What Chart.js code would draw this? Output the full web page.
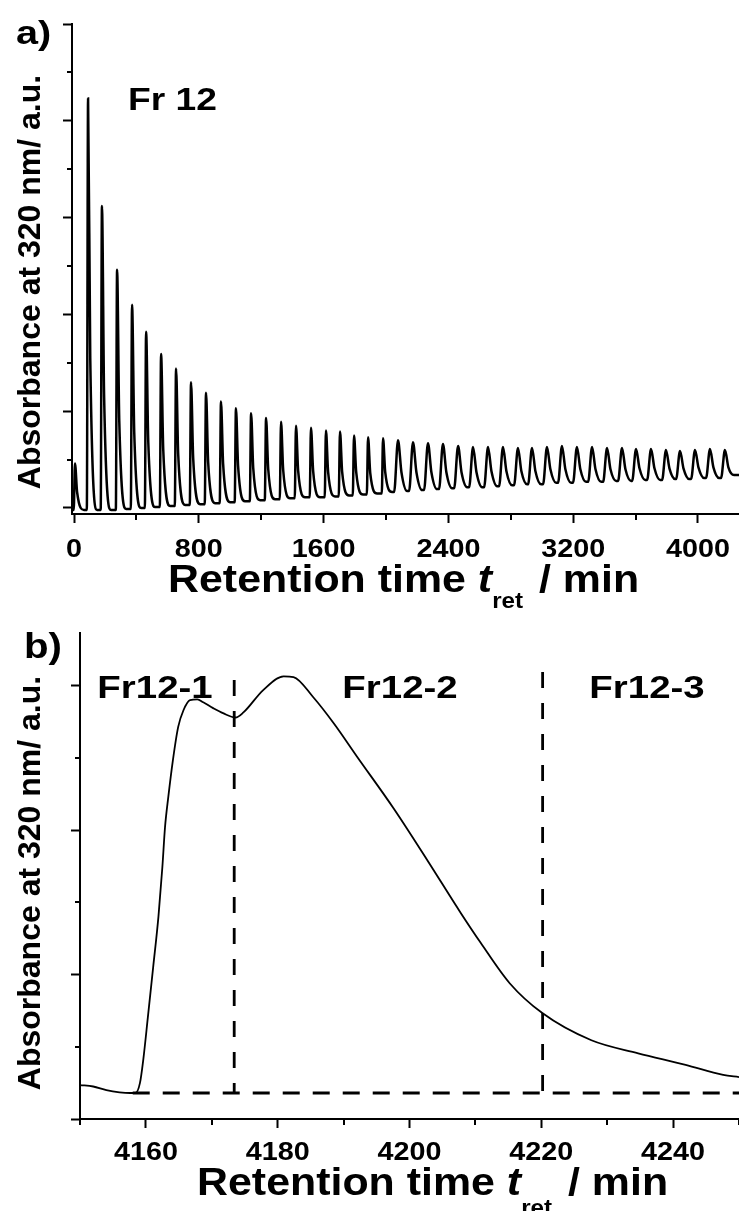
<!DOCTYPE html>
<html>
<head>
<meta charset="utf-8">
<script src="https://cdn.jsdelivr.net/npm/chart.js@4.4.1/dist/chart.umd.min.js"></script>
<style>
  body { margin: 0; background: #fff; }
  canvas { position: absolute; left: 0; }
  #chartA { top: 0; }
  #chartB { top: 600px; }
</style>
</head>
<body>
<canvas id="chartA" width="739" height="616"></canvas>
<canvas id="chartB" width="739" height="611"></canvas>
<script>
// ---- panel a: repeated cycles, one peak per injection ----
const peakTimes = [6, 90, 179, 276, 372, 462, 558, 654, 750, 846,
  942, 1038, 1135, 1231, 1327, 1423, 1519, 1615, 1705, 1795,
  1885, 1981, 2077, 2173, 2269, 2365, 2462, 2558, 2654, 2750,
  2846, 2936, 3032, 3128, 3224, 3321, 3417, 3513, 3603, 3699,
  3795, 3885, 3981, 4077, 4173];
const peakTops = [0.46, 4.23, 3.12, 2.46, 2.10, 1.82, 1.59, 1.44, 1.30, 1.19,
  1.10, 1.03, 0.98, 0.93, 0.89, 0.85, 0.83, 0.80, 0.79, 0.75,
  0.73, 0.72, 0.70, 0.68, 0.67, 0.66, 0.64, 0.63, 0.63, 0.63,
  0.62, 0.62, 0.63, 0.64, 0.63, 0.63, 0.62, 0.62, 0.61, 0.61,
  0.60, 0.59, 0.60, 0.61, 0.60];
// level where the steep fall turns into the slow tail
const peakKnees = [0.16, 1.55, 1.14, 0.90, 0.78, 0.68, 0.60, 0.55, 0.51, 0.47,
  0.45, 0.43, 0.41, 0.40, 0.39, 0.38, 0.38, 0.37, 0.37, 0.37,
  0.36, 0.37, 0.37, 0.37, 0.37, 0.37, 0.37, 0.37, 0.38, 0.38,
  0.38, 0.38, 0.40, 0.40, 0.40, 0.40, 0.40, 0.40, 0.41, 0.41,
  0.41, 0.41, 0.42, 0.42, 0.42];
// baseline reached after each peak
const peakValleys = [-0.02, -0.02, -0.02, -0.01, 0.00, 0.01, 0.02, 0.03, 0.04, 0.05,
  0.06, 0.07, 0.08, 0.09, 0.10, 0.11, 0.11, 0.12, 0.13, 0.14,
  0.15, 0.165, 0.175, 0.185, 0.195, 0.205, 0.215, 0.215, 0.225, 0.235,
  0.245, 0.245, 0.26, 0.26, 0.27, 0.27, 0.28, 0.28, 0.29, 0.29,
  0.30, 0.30, 0.31, 0.31, 0.34];
const traceStartA = -0.02;

const timeTicksA = [0, 800, 1600, 2400, 3200, 4000];
const timeMinorA = [400, 1200, 2000, 2800, 3600];
const absTicksA = [0, 1, 2, 3, 4, 5];
const absMinorA = [0.5, 1.5, 2.5, 3.5, 4.5];

// ---- panel b: last cycle, cut into three fractions ----
const fracTimes = [4150, 4152, 4154, 4156, 4157.6, 4158.4, 4159.1, 4159.6, 4160.3, 4161.1,
  4161.9, 4162.5, 4162.9, 4163.4, 4164.1, 4164.9, 4165.7, 4166.7, 4167.8, 4168.7,
  4170.2, 4171.7, 4173.6, 4174.8, 4177.8, 4180.9, 4182.4, 4185.4, 4188.5, 4192.1,
  4197.6, 4202.8, 4207.8, 4210.8, 4215.2, 4220.1, 4227.6, 4234.7, 4241.9, 4247.6, 4250];
const fracAbs = [0.47, 0.45, 0.40, 0.37, 0.36, 0.36, 0.50, 0.82, 1.41, 2.10,
  2.80, 3.49, 4.04, 4.46, 4.97, 5.43, 5.66, 5.80, 5.81, 5.77,
  5.69, 5.62, 5.56, 5.63, 5.94, 6.13, 6.12, 5.84, 5.48, 5.01,
  4.30, 3.57, 2.85, 2.44, 1.88, 1.47, 1.09, 0.91, 0.75, 0.61, 0.58];
const cutTimes = [4173.4, 4220.2];
const cutTops = [6.08, 6.19];
const baseLevel = 0.36;
const baseFrom = 4158;
const fracNames = ['Fr12-1', 'Fr12-2', 'Fr12-3'];

const timeTicksB = [4160, 4180, 4200, 4220, 4240];
const timeMinorB = [4150, 4170, 4190, 4210, 4230, 4250];
const absTicksB = [0, 2, 4, 6];
const absMinorB = [1, 3, 5];

const FONT = '"Liberation Sans", Arial, sans-serif';

// builds the saw-tooth trace of panel a from the peak readings
function buildTrace() {
  const pts = [{x: -13, y: traceStartA}];
  peakTimes.forEach((t, i) => {
    const late = t > 2000;
    const lead = late ? 25 : 8;
    const knee = late ? 22 : 14;
    const before = i === 0 ? traceStartA : peakValleys[i - 1];
    pts.push({x: t - lead, y: before});
    pts.push({x: t, y: peakTops[i]});
    pts.push({x: t + knee, y: peakKnees[i]});
    pts.push({x: t + 58, y: peakValleys[i]});
  });
  pts.push({x: 4263, y: peakValleys[peakValleys.length - 1]});
  return pts;
}

// bold text, a little wider than the font draws it
function wideText(ctx, str, x, y, size, opts) {
  opts = opts || {};
  const sx = opts.sx || 1.15;
  ctx.save();
  ctx.font = (opts.italic ? 'italic ' : '') + 'bold ' + size + 'px ' + FONT;
  ctx.fillStyle = '#000';
  ctx.textBaseline = 'alphabetic';
  const w = ctx.measureText(str).width * sx;
  const left = opts.align === 'center' ? x - w / 2 : x;
  ctx.translate(left, y);
  ctx.scale(sx, 1);
  ctx.fillText(str, 0, 0);
  ctx.restore();
  return w;
}

function timeTitle(ctx, left, base, subDrop) {
  let x = left;
  x += wideText(ctx, 'Retention time ', x, base, 39, {sx: 1.1});
  x += wideText(ctx, 't', x, base, 39, {sx: 1.1, italic: true});
  x += wideText(ctx, 'ret', x, base + subDrop, 22, {sx: 1.1}) + 4;
  wideText(ctx, ' / min', x, base, 39, {sx: 1.1});
}

function absTitle(ctx, cx, cy) {
  ctx.save();
  ctx.translate(cx, cy);
  ctx.rotate(-Math.PI / 2);
  ctx.font = 'bold 32px ' + FONT;
  ctx.fillStyle = '#000';
  ctx.textAlign = 'center';
  ctx.fillText('Absorbance at 320 nm/ a.u.', 0, 0);
  ctx.restore();
}

// short ticks between the labelled ones
const minorTicks = {
  id: 'minorTicks',
  afterDraw(chart, args, opts) {
    const ctx = chart.ctx;
    const sx = chart.scales.x, sy = chart.scales.y;
    ctx.save();
    ctx.strokeStyle = '#000';
    ctx.lineWidth = 2;
    ctx.beginPath();
    opts.x.forEach(v => {
      const px = Math.round(sx.getPixelForValue(v));
      ctx.moveTo(px, sx.top);
      ctx.lineTo(px, sx.top + 6);
    });
    opts.y.forEach(v => {
      const py = Math.round(sy.getPixelForValue(v));
      ctx.moveTo(sy.right, py);
      ctx.lineTo(sy.right - 5, py);
    });
    ctx.stroke();
    ctx.restore();
  }
};

function axisOptions(xMin, xMax, xTicks, yMin, yMax, yTicks, yWidth, xHeight) {
  const common = {
    border: {color: '#000', width: 2},
    grid: {drawOnChartArea: false, drawTicks: true, tickLength: 9, tickWidth: 2, tickColor: '#000'},
    ticks: {display: false}
  };
  return {
    x: Object.assign({}, common, {
      type: 'linear', min: xMin, max: xMax,
      afterBuildTicks: s => { s.ticks = xTicks.map(v => ({value: v})); },
      afterFit: s => { s.height = xHeight; }
    }),
    y: Object.assign({}, common, {
      type: 'linear', min: yMin, max: yMax,
      afterBuildTicks: s => { s.ticks = yTicks.map(v => ({value: v})); },
      afterFit: s => { s.width = yWidth; }
    })
  };
}

const baseOptions = {
  responsive: false,
  animation: false,
  devicePixelRatio: 1,
  events: [],
  plugins: {legend: {display: false}, tooltip: {enabled: false}}
};

// panel a
new Chart(document.getElementById('chartA'), {
  type: 'line',
  data: {
    datasets: [{
      data: buildTrace(),
      borderColor: '#000',
      borderWidth: 2.5,
      pointRadius: 0,
      cubicInterpolationMode: 'monotone',
      fill: false
    }]
  },
  options: Object.assign({}, baseOptions, {
    layout: {padding: {top: 24, left: 0, right: 0, bottom: 0}},
    scales: axisOptions(-13, 4263, timeTicksA, -0.062, 5, absTicksA, 72, 102),
    plugins: Object.assign({}, baseOptions.plugins, {
      minorTicks: {x: timeMinorA, y: absMinorA}
    })
  }),
  plugins: [minorTicks, {
    id: 'textA',
    afterDraw(chart) {
      const ctx = chart.ctx;
      const sx = chart.scales.x;
      timeTicksA.forEach(v => {
        wideText(ctx, String(v), sx.getPixelForValue(v), 557, 25, {align: 'center', sx: 1.15});
      });
      timeTitle(ctx, 168, 592, 16);
      absTitle(ctx, 40, 282);
      wideText(ctx, 'a)', 16, 44, 33, {sx: 1.2});
      wideText(ctx, 'Fr 12', 128, 110, 31, {sx: 1.2});
    }
  }]
});

// panel b
const curveB = fracTimes.map((t, i) => ({x: t, y: fracAbs[i]}));
// cut lines run top-down so the dash pattern starts at the top
const cutSets = cutTimes.map((t, i) => ({
  data: [{x: t, y: cutTops[i]}, {x: t, y: baseLevel}],
  borderColor: '#000',
  borderWidth: 2.8,
  borderDash: [16, 15],
  pointRadius: 0,
  fill: false
}));

new Chart(document.getElementById('chartB'), {
  type: 'line',
  data: {
    datasets: [{
      data: curveB,
      borderColor: '#000',
      borderWidth: 1.8,
      pointRadius: 0,
      cubicInterpolationMode: 'monotone',
      fill: false
    }, {
      data: [{x: baseFrom, y: baseLevel}, {x: 4250, y: baseLevel}],
      borderColor: '#000',
      borderWidth: 2.8,
      borderDash: [17, 13],
      pointRadius: 0,
      fill: false
    }].concat(cutSets)
  },
  options: Object.assign({}, baseOptions, {
    layout: {padding: {top: 33, left: 0, right: 0, bottom: 0}},
    scales: axisOptions(4150, 4250, timeTicksB, 0, 6.73, absTicksB, 80, 92),
    plugins: Object.assign({}, baseOptions.plugins, {
      minorTicks: {x: timeMinorB, y: absMinorB}
    })
  }),
  plugins: [minorTicks, {
    id: 'textB',
    afterDraw(chart) {
      const ctx = chart.ctx;
      const sx = chart.scales.x;
      timeTicksB.forEach(v => {
        wideText(ctx, String(v), sx.getPixelForValue(v), 560, 25, {align: 'center', sx: 1.15});
      });
      timeTitle(ctx, 197, 595, 20);
      absTitle(ctx, 40, 283);
      wideText(ctx, 'b)', 24, 58, 35, {sx: 1.15});
      const centers = [155, 400, 647];
      fracNames.forEach((name, i) => {
        wideText(ctx, name, centers[i], 98, 32, {align: 'center', sx: 1.2});
      });
    }
  }]
});
</script>
</body>
</html>
